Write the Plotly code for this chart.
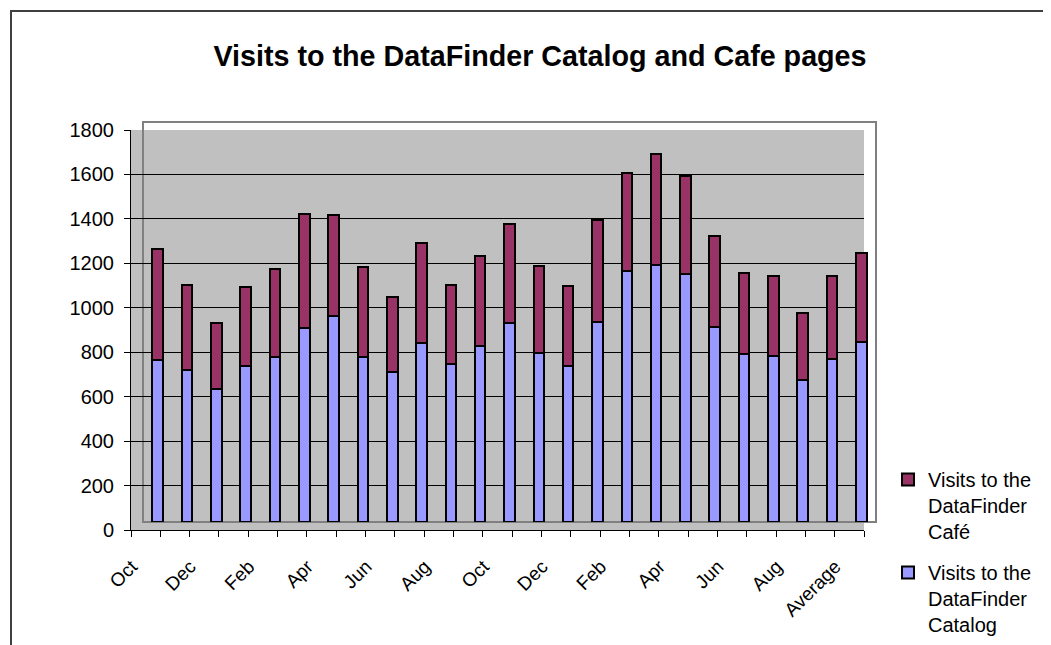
import plotly.graph_objects as go

# ---- data ----
categories = ["Oct", "Nov", "Dec", "Jan", "Feb", "Mar", "Apr", "May", "Jun", "Jul", "Aug", "Sep",
              "Oct", "Nov", "Dec", "Jan", "Feb", "Mar", "Apr", "May", "Jun", "Jul", "Aug", "Sep",
              "Average"]
catalog = [727, 686, 599, 701, 742, 874, 926, 742, 676, 805, 710, 790,
           896, 760, 704, 901, 1129, 1156, 1114, 878, 754, 747, 637, 734, 808]
cafe = [502, 381, 296, 357, 397, 510, 456, 406, 337, 451, 356, 406,
        446, 391, 357, 460, 442, 499, 441, 408, 367, 358, 303, 374, 403]
y_ticks = [0, 200, 400, 600, 800, 1000, 1200, 1400, 1600, 1800]
title_text = "Visits to the DataFinder Catalog and Cafe pages"
name_cafe = "Visits to the<br>DataFinder<br>Café"
name_catalog = "Visits to the<br>DataFinder<br>Catalog"

# ---- layout geometry (screen pixels) ----
PAGE_W, PAGE_H = 1051, 645
OFF = 8                                       # default page body margin
W, H = PAGE_W - OFF, PAGE_H - OFF
FX0, FX1, FY0, FY1 = 131, 864, 130, 530      # front plane (axes, grid)
BX0, BX1, BY0, BY1 = 143, 876, 122, 522      # back plane (bars, frame)


def px(x):
    return (x - OFF) / W


def py(y):
    return 1 - (y - OFF) / H


FONT = "Arial, 'Liberation Sans', sans-serif"
idx = list(range(len(categories)))

fig = go.Figure()
# empty trace that carries the front (labelled) axes
fig.add_trace(go.Scatter(x=[], y=[], xaxis="x", yaxis="y", showlegend=False, hoverinfo="skip"))
fig.add_trace(go.Bar(x=idx, y=catalog, name=name_catalog, xaxis="x3", yaxis="y3",
                     marker=dict(color="#9999FF", line=dict(color="black", width=2)),
                     width=0.36, legendgroup="b", legendrank=2))
fig.add_trace(go.Bar(x=idx, y=cafe, name=name_cafe, xaxis="x3", yaxis="y3",
                     marker=dict(color="#993366", line=dict(color="black", width=2)),
                     width=0.36, legendgroup="a", legendrank=1))

fig.update_layout(
    width=W, height=H,
    margin=dict(l=0, r=0, t=0, b=0, autoexpand=False),
    paper_bgcolor="white",
    plot_bgcolor="rgba(0,0,0,0)",
    barmode="stack",
    font=dict(family=FONT, color="black", size=20),
    title=dict(text="<b>" + title_text + "</b>", x=px(540), xanchor="center",
               y=py(56), yanchor="middle", font=dict(size=28.7, family=FONT, color="black")),
    xaxis=dict(domain=[px(FX0), px(FX1)], anchor="y", range=[-0.5, len(categories) - 0.5],
               tickmode="array", tickvals=idx[::2], ticktext=categories[::2],
               tickangle=-45, ticks="", showgrid=False, zeroline=False,
               showline=True, linecolor="black", linewidth=1, automargin=False,
               tickfont=dict(size=19), ticklabelshift=-14, ticklabelstandoff=17,
               minor=dict(tickmode="array", tickvals=[i - 0.5 for i in range(len(categories) + 1)],
                          ticks="outside", ticklen=6, tickcolor="black", tickwidth=1, showgrid=False)),
    yaxis=dict(domain=[py(FY1), py(FY0)], anchor="x", range=[0, 1800],
               tickmode="array", tickvals=y_ticks,
               ticks="outside", ticklen=6, tickcolor="black", automargin=False,
               showgrid=True, gridcolor="black", gridwidth=1, zeroline=False,
               showline=True, linecolor="black", linewidth=1,
               tickfont=dict(size=20), ticklabelstandoff=6),
    xaxis3=dict(domain=[px(BX0), px(BX1)], anchor="y3", range=[-0.5, len(categories) - 0.5],
                visible=False, automargin=False),
    yaxis3=dict(domain=[py(BY1), py(BY0)], anchor="x3", range=[0, 1800], visible=False,
                automargin=False),
    legend=dict(x=px(888), xanchor="left", y=py(460), yanchor="top",
                traceorder="grouped", tracegroupgap=12, valign="top",
                font=dict(size=20), bgcolor="rgba(0,0,0,0)"),
    showlegend=True,
)

shapes = [
    # gray plot area (front plane)
    dict(type="rect", xref="paper", yref="paper", x0=px(FX0), x1=px(FX1), y0=py(FY1), y1=py(FY0),
         fillcolor="#C0C0C0", line=dict(width=0), layer="below"),
    # back wall frame
    dict(type="rect", xref="paper", yref="paper", x0=px(BX0), x1=px(BX1), y0=py(BY1), y1=py(BY0),
         fillcolor="rgba(0,0,0,0)", line=dict(color="#808080", width=2), layer="below"),
    # chart area border
    dict(type="rect", xref="paper", yref="paper", x0=px(11), x1=px(PAGE_W + 20),
         y0=py(PAGE_H + 20), y1=py(11),
         fillcolor="rgba(0,0,0,0)", line=dict(color="#404040", width=2), layer="below"),
]
fig.update_layout(shapes=shapes)

fig.write_html("out.html")
